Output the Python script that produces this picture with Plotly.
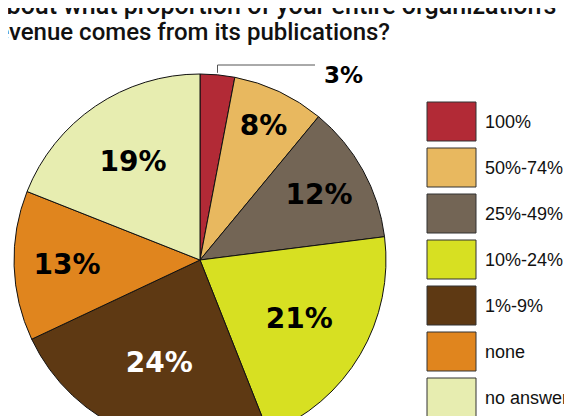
import math

import plotly.graph_objects as go

# Survey data
categories = ["100%", "50%-74%", "25%-49%", "10%-24%", "1%-9%", "none", "no answer"]
shares = [3, 8, 12, 21, 24, 13, 19]
slice_colors = ["#B22A36", "#E8B85F", "#736555", "#D7E022", "#5E3913", "#E0851E", "#E7EDB0"]
label_colors = ["black", "black", "black", "black", "white", "black", "black"]

title_lines = [
    "About what proportion of your entire organization's",
    "revenue comes from its publications?",
]

W, H = 572, 470
PAGE_OFF = 8  # the html body margin shifts the svg by this much
CX, CY, R = 200, 260, 186  # pie centre / radius in page px


def px_x(x):
    return (x - PAGE_OFF) / W


def px_y(y):
    return 1 - (y - PAGE_OFF) / H


fig = go.Figure()

# small first slice gets its label outside with a leader line
inside_text = [f"{v}%" if i > 0 else "" for i, v in enumerate(shares)]

fig.add_trace(
    go.Pie(
        labels=categories,
        values=shares,
        text=inside_text,
        textinfo="text",
        textposition="inside",
        insidetextorientation="horizontal",
        sort=False,
        direction="clockwise",
        rotation=0,
        marker=dict(colors=slice_colors, line=dict(color="#111111", width=1)),
        textfont=dict(family="DejaVu Sans", size=28, color=label_colors, weight="bold"),
        domain=dict(x=[px_x(CX - R), px_x(CX + R)], y=[px_y(CY + R), px_y(CY - R)]),
        showlegend=False,
        hoverinfo="label+percent",
    )
)

# leader line for the first slice, anchored at its mid-angle on the rim
total = sum(shares)
mid = math.radians(shares[0] / 2 / total * 360)
ax = CX + R * math.sin(mid)
ay = CY - R * math.cos(mid)
fig.add_shape(
    type="path",
    xref="paper", yref="paper",
    path=f"M {px_x(ax)} {px_y(ay - 2)} L {px_x(ax)} {px_y(65)} L {px_x(315)} {px_y(65)}",
    line=dict(color="#555555", width=1),
)
fig.add_annotation(
    x=px_x(322), y=px_y(75), xref="paper", yref="paper",
    xanchor="left", yanchor="middle", showarrow=False,
    text=f"<b>{shares[0]}%</b>",
    font=dict(family="DejaVu Sans", size=23, color="black"),
)

# custom legend: big swatches
for i, (cat, col) in enumerate(zip(categories, slice_colors)):
    top = 102 + 46 * i
    fig.add_shape(
        type="rect", xref="paper", yref="paper",
        x0=px_x(427), x1=px_x(476), y0=px_y(top + 39), y1=px_y(top),
        fillcolor=col, line=dict(color="#333333", width=1),
    )
    fig.add_annotation(
        x=px_x(483), y=px_y(top + 20), xref="paper", yref="paper",
        xanchor="left", yanchor="middle", showarrow=False,
        text=cat, font=dict(family="Liberation Sans, Arial", size=18, color="#111111"),
    )

# title, partly cut off at the top like the source
fig.add_annotation(
    x=px_x(-12), y=px_y(22), xref="paper", yref="paper",
    xanchor="left", yanchor="bottom", showarrow=False,
    text=title_lines[0], font=dict(family="Roboto", size=25, color="#111111", weight=500),
)
fig.add_annotation(
    x=px_x(-14), y=px_y(48), xref="paper", yref="paper",
    xanchor="left", yanchor="bottom", showarrow=False,
    text=title_lines[1], font=dict(family="Roboto", size=24, color="#111111", weight=500),
)

fig.update_layout(
    width=W,
    height=H,
    margin=dict(l=0, r=0, t=0, b=0),
    paper_bgcolor="white",
    plot_bgcolor="white",
    showlegend=False,
)

fig.write_html("out.html")
